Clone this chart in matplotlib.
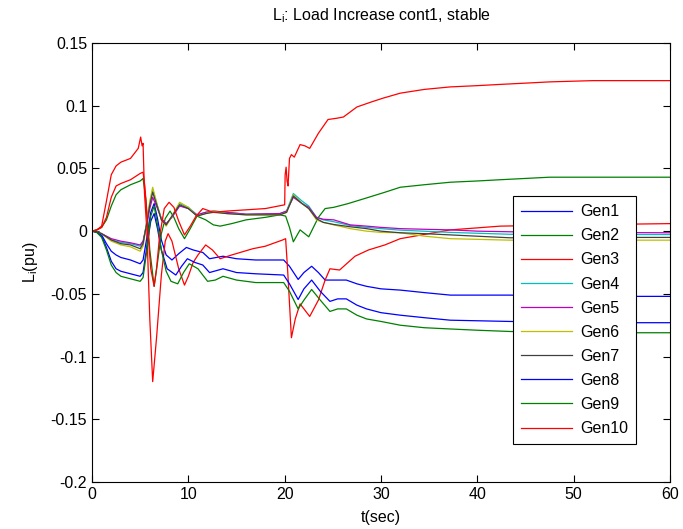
import numpy as np
import matplotlib.pyplot as plt

plt.rcParams['font.family'] = ['Liberation Sans', 'DejaVu Sans']
plt.rcParams['mathtext.fontset'] = 'custom'
plt.rcParams['mathtext.rm'] = 'Liberation Sans'
plt.rcParams['mathtext.it'] = 'Liberation Sans'

# --- values (time in s, L_i in pu) ---
gen1_t = [0, 0.5, 1, 1.5, 2, 2.5, 3, 4, 5, 5.3, 5.7, 6.1, 6.45, 6.8, 7.2, 7.7, 8.3, 9.0, 9.8,
          10.5, 11.5, 12.2, 13.6, 15, 17, 19.9, 20.5, 21.4, 22.0, 22.8, 23.5, 24.2, 25.2, 26.4,
          27.5, 28.5, 30, 32, 34.5, 37.2, 43.4, 50, 60]
gen1_v = [0, -0.0005, -0.003, -0.010, -0.016, -0.019, -0.021, -0.023, -0.026, -0.023, -0.005,
          0.015, 0.022, 0.010, -0.007, -0.019, -0.023, -0.018, -0.013, -0.015, -0.017, -0.022,
          -0.020, -0.022, -0.023, -0.023, -0.028, -0.0385, -0.033, -0.028, -0.033, -0.039,
          -0.039, -0.039, -0.042, -0.044, -0.046, -0.047, -0.049, -0.051, -0.051, -0.052, -0.052]

gen2_t = [0, 0.5, 1, 1.5, 2, 2.5, 3, 4, 5, 5.3, 5.6, 6.0, 6.45, 6.8, 7.2, 7.6, 8.1, 8.5, 9.0,
          9.6, 10.2, 10.9, 11.8, 12.6, 13.3, 14.5, 16, 18, 19.5, 20.1, 20.5, 20.9, 21.6, 22.5,
          23.5, 24.2, 25.1, 26.6, 28.3, 30.4, 32, 34.5, 37.2, 40, 42.4, 47.5, 52, 56, 60]
gen2_v = [0, 0.001, 0.003, 0.009, 0.020, 0.029, 0.033, 0.037, 0.040, 0.042, 0.025, -0.015,
          -0.044, -0.025, -0.002, 0.010, 0.016, 0.011, 0.002, -0.006, 0.002, 0.012, 0.009,
          0.005, 0.004, 0.006, 0.009, 0.011, 0.013, 0.012, 0.003, -0.0085, 0.001, -0.0045,
          0.011, 0.018, 0.019, 0.022, 0.026, 0.031, 0.035, 0.037, 0.039, 0.040, 0.041, 0.043,
          0.043, 0.043, 0.043]

gen3_t = [0, 0.5, 1, 1.5, 2, 2.5, 3, 4, 4.8, 5.05, 5.2, 5.3, 5.45, 5.7, 6.0, 6.3, 6.7, 7.2,
          7.6, 7.9, 8.3, 9.0, 9.6, 10.0, 10.5, 11.0, 11.8, 12.5, 13.3, 14.5, 16.7, 18.0, 19.8,
          20.1, 20.3, 20.7, 21.1, 21.6, 22.0, 22.6, 23.5, 24.2, 24.7, 25.7, 27.3, 28.7, 30.4,
          32, 37.2, 42.4, 50, 60]
gen3_v = [0, 0.001, 0.004, 0.024, 0.045, 0.052, 0.055, 0.058, 0.066, 0.075, 0.068, 0.070,
          0.030, 0.0, -0.070, -0.120, -0.085, -0.035, -0.008, -0.002, -0.008, -0.030, -0.043,
          -0.036, -0.025, -0.019, -0.011, -0.015, -0.022, -0.019, -0.014, -0.012, -0.007,
          -0.006, -0.030, -0.085, -0.070, -0.058, -0.062, -0.068, -0.055, -0.039, -0.030,
          -0.031, -0.020, -0.015, -0.011, -0.006, 0.001, 0.004, 0.005, 0.006]

gen4_t = [0, 0.5, 1, 2, 3, 4, 5, 5.3, 5.7, 6.0, 6.3, 6.8, 7.2, 7.7, 8.3, 9.1, 10.0, 10.9,
          11.8, 12.6, 14, 16, 19.5, 20.2, 20.9, 21.8, 22.5, 23.3, 24, 25.1, 26.8, 28.5, 30, 32,
          37.2, 43.4, 50, 60]
gen4_v = [0, -0.0005, -0.002, -0.007, -0.009, -0.010, -0.012, -0.009, 0.008, 0.022, 0.033,
          0.020, 0.010, 0.005, 0.012, 0.022, 0.019, 0.013, 0.015, 0.016, 0.015, 0.0135, 0.014,
          0.016, 0.030, 0.024, 0.020, 0.011, 0.009, 0.0075, 0.0045, 0.003, 0.002, 0.0008,
          -0.001, -0.0025, -0.0027, -0.0027]

gen5_t = [0, 0.5, 1, 2, 3, 4, 5, 5.3, 5.7, 6.0, 6.3, 6.8, 7.2, 7.7, 8.3, 9.1, 10.0, 10.9,
          11.8, 12.6, 14, 16, 19.5, 20.2, 20.9, 21.8, 22.5, 23.3, 24, 25.1, 26.8, 28.5, 30, 32,
          34.5, 37.2, 40, 43.4, 50, 60]
gen5_v = [0, -0.0005, -0.002, -0.006, -0.008, -0.0093, -0.011, -0.008, 0.006, 0.018, 0.027,
          0.018, 0.010, 0.006, 0.011, 0.020, 0.018, 0.013, 0.015, 0.016, 0.015, 0.0135, 0.014,
          0.016, 0.027, 0.022, 0.019, 0.011, 0.0095, 0.009, 0.005, 0.004, 0.003, 0.002, 0.0015,
          0.001, 0.0, -0.0005, -0.001, -0.0013]

gen6_t = [0, 0.5, 1, 2, 3, 4, 5, 5.3, 5.7, 6.0, 6.3, 6.8, 7.2, 7.7, 8.3, 9.1, 10.0, 10.9,
          11.8, 12.6, 14, 16, 19.5, 20.2, 20.9, 21.8, 22.5, 23.3, 24, 25.1, 26.8, 28.5, 30, 32,
          34.5, 37.2, 43.4, 50, 60]
gen6_v = [0, -0.0005, -0.002, -0.008, -0.011, -0.0125, -0.016, -0.012, 0.008, 0.024, 0.035,
          0.020, 0.009, 0.004, 0.012, 0.023, 0.019, 0.012, 0.014, 0.016, 0.014, 0.013, 0.013,
          0.015, 0.029, 0.022, 0.018, 0.009, 0.007, 0.005, 0.002, 0.0, -0.001, -0.0013,
          -0.004, -0.006, -0.0072, -0.0072, -0.0072]

gen7_t = [0, 0.5, 1, 2, 3, 4, 5, 5.3, 5.7, 6.0, 6.3, 6.8, 7.2, 7.7, 8.3, 9.1, 10.0, 10.9,
          11.8, 12.6, 14, 16, 19.5, 20.2, 20.9, 21.8, 22.5, 23.3, 24, 25.1, 26.8, 28.5, 30, 32,
          34.5, 37.2, 43.4, 50, 60]
gen7_v = [0, -0.0005, -0.002, -0.007, -0.010, -0.011, -0.014, -0.010, 0.007, 0.021, 0.031,
          0.019, 0.009, 0.005, 0.012, 0.021, 0.018, 0.012, 0.014, 0.015, 0.014, 0.013, 0.013,
          0.015, 0.028, 0.022, 0.018, 0.010, 0.007, 0.0053, 0.0035, 0.002, 0.0, -0.0013,
          -0.002, -0.003, -0.0053, -0.005, -0.005]

gen8_t = [0, 0.5, 1, 1.5, 2, 2.5, 3, 4, 5, 5.3, 5.7, 6.1, 6.45, 6.8, 7.2, 7.8, 8.7, 9.3, 9.9,
          10.7, 11.5, 12.2, 13.6, 15, 17, 19.9, 20.5, 21.4, 22.0, 22.8, 23.7, 24.7, 25.5, 26.4,
          27.5, 28.5, 30, 32, 34.5, 37.2, 43.4, 50, 60]
gen8_v = [0, -0.001, -0.004, -0.013, -0.024, -0.030, -0.032, -0.034, -0.036, -0.033, -0.012,
          0.008, 0.014, 0.002, -0.015, -0.030, -0.035, -0.028, -0.022, -0.025, -0.027, -0.033,
          -0.030, -0.033, -0.034, -0.035, -0.042, -0.0545, -0.046, -0.039, -0.048, -0.056,
          -0.054, -0.054, -0.059, -0.062, -0.065, -0.067, -0.069, -0.071, -0.072, -0.073, -0.073]

gen9_t = [0, 0.5, 1, 1.5, 2, 2.5, 3, 4, 5, 5.3, 5.7, 6.1, 6.45, 6.8, 7.2, 7.7, 8.2, 8.9, 9.5,
          10.1, 11.0, 12.0, 12.8, 13.6, 15, 17, 19.9, 20.5, 21.4, 22.0, 22.8, 23.7, 24.7, 25.5,
          26.4, 27.5, 28.5, 30, 32, 34.5, 37.2, 40, 43.4, 50, 60]
gen9_v = [0, -0.001, -0.005, -0.015, -0.027, -0.033, -0.036, -0.038, -0.040, -0.037, -0.015,
          0.012, 0.020, 0.005, -0.015, -0.032, -0.040, -0.042, -0.033, -0.026, -0.030, -0.040,
          -0.039, -0.036, -0.039, -0.041, -0.041, -0.048, -0.062, -0.055, -0.0465, -0.055,
          -0.064, -0.062, -0.062, -0.067, -0.070, -0.072, -0.075, -0.077, -0.078, -0.079,
          -0.080, -0.081, -0.081]

gen10_t = [0, 0.5, 1, 1.5, 2, 2.5, 3, 4, 5, 5.3, 5.5, 5.8, 6.1, 6.45, 6.7, 7.0, 7.5, 8.0,
           8.5, 9.0, 9.6, 10.2, 10.8, 11.5, 12.6, 14, 16, 18, 20.0, 20.05, 20.15, 20.25, 20.35,
           20.5, 20.7, 21.0, 21.6, 22.1, 22.6, 23.5, 24.5, 25.4, 26.1, 27.5, 29, 30.2, 32, 34.5,
           37.2, 40, 42.4, 45, 47.5, 52, 56, 60]
gen10_v = [0, 0.001, 0.003, 0.011, 0.027, 0.036, 0.038, 0.041, 0.046, 0.047, 0.035, 0.0,
           -0.030, -0.044, -0.030, -0.005, 0.018, 0.023, 0.019, 0.008, -0.003, 0.004, 0.012,
           0.018, 0.015, 0.016, 0.017, 0.018, 0.021, 0.045, 0.051, 0.040, 0.036, 0.058, 0.061,
           0.059, 0.069, 0.068, 0.066, 0.078, 0.089, 0.090, 0.091, 0.099, 0.103, 0.106, 0.110,
           0.113, 0.115, 0.116, 0.117, 0.118, 0.119, 0.120, 0.120, 0.120]

labels = ['Gen1', 'Gen2', 'Gen3', 'Gen4', 'Gen5', 'Gen6', 'Gen7', 'Gen8', 'Gen9', 'Gen10']
colors = ['#0000ff', '#008000', '#ff0000', '#00bfbf', '#bf00bf', '#bfbf00', '#404040',
          '#0000ff', '#008000', '#ff0000']

series = [(gen1_t, gen1_v), (gen2_t, gen2_v), (gen3_t, gen3_v), (gen4_t, gen4_v),
          (gen5_t, gen5_v), (gen6_t, gen6_v), (gen7_t, gen7_v), (gen8_t, gen8_v),
          (gen9_t, gen9_v), (gen10_t, gen10_v)]

fs = 11.5

fig = plt.figure(figsize=(6.83, 5.29), dpi=100)
ax = fig.add_axes([92 / 683, 1 - 482 / 529, 578 / 683, 439 / 529])

for (t, v), lab, col in zip(series, labels, colors):
    ax.plot(t, v, color=col, lw=0.9, label=lab)

ax.set_xlim(0, 60)
ax.set_ylim(-0.2, 0.15)
ax.set_xticks(np.arange(0, 61, 10))
ax.set_yticks([-0.2, -0.15, -0.1, -0.05, 0, 0.05, 0.1, 0.15])
ax.set_yticklabels(['-0.2', '-0.15', '-0.1', '-0.05', '0', '0.05', '0.1', '0.15'])
ax.tick_params(direction='in', top=True, right=True, labelsize=fs, length=5, width=0.8)
for s in ax.spines.values():
    s.set_linewidth(0.8)

ax.set_title(r'L$_\mathrm{i}$: Load Increase cont1, stable', fontsize=fs, pad=16)
ax.set_xlabel('t(sec)', fontsize=fs, labelpad=6)
ax.set_ylabel(r'L$_\mathrm{i}$(pu)', fontsize=fs, labelpad=8)

leg = ax.legend(loc='upper left', bbox_to_anchor=(0.728, 0.651), borderaxespad=0,
                fontsize=fs, handlelength=3.2, handletextpad=0.5, labelspacing=0.57,
                fancybox=False, framealpha=1, edgecolor='black', borderpad=0.5)
leg.get_frame().set_linewidth(0.8)

fig.savefig('out.png', dpi=100)
